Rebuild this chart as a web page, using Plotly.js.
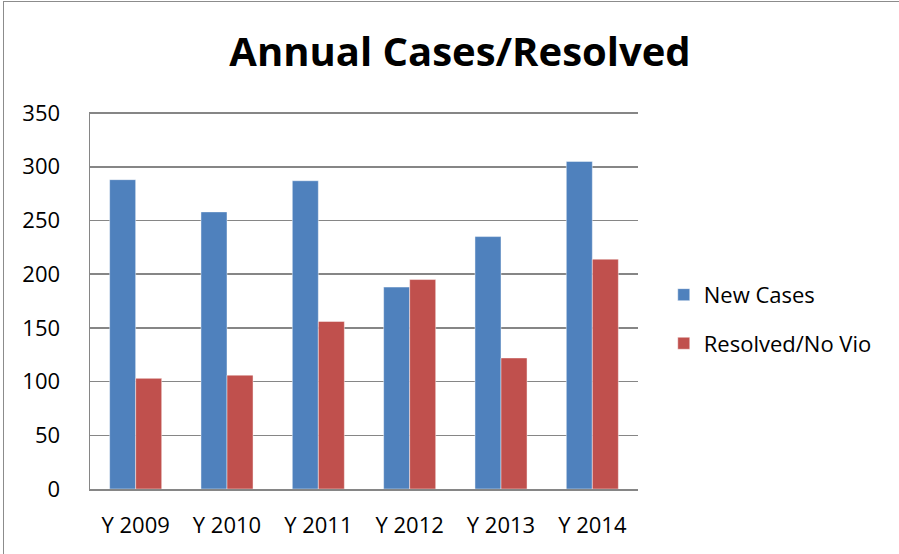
<!DOCTYPE html>
<html>
<head>
<meta charset="utf-8">
<script src="https://cdn.plot.ly/plotly-3.0.1.min.js"></script>
<style>
  html, body { margin: 0; padding: 0; background: #fff; }
  #frame { position: absolute; left: 3px; top: 1px; width: 896px; height: 553px;
           border-left: 1px solid #8c8c8c; border-top: 1px solid #8c8c8c; box-sizing: border-box; }
  #chart { position: absolute; left: 0; top: 0; width: 899px; height: 554px; }
</style>
</head>
<body>
<div id="frame"></div>
<div id="chart"></div>
<script>
const categories = ["Y 2009", "Y 2010", "Y 2011", "Y 2012", "Y 2013", "Y 2014"];
const newCases = [288, 258, 287, 188, 235, 305];
const resolvedNoVio = [103, 106, 156, 195, 122, 214];
const yTickValues = [0, 50, 100, 150, 200, 250, 300, 350];

const font = "'Open Sans', Lato, sans-serif";

const traces = [
  { type: "bar", name: "New Cases", x: categories, y: newCases, legendgroup: "a",
    marker: { color: "#4F81BD", line: { color: "rgba(255,255,255,0.45)", width: 1 } } },
  { type: "bar", name: "Resolved/No Vio", x: categories, y: resolvedNoVio, legendgroup: "b",
    marker: { color: "#C0504D", line: { color: "rgba(255,255,255,0.45)", width: 1 } } }
];

const layout = {
  width: 899, height: 554,
  margin: { l: 90, r: 261, t: 112, b: 65 },
  paper_bgcolor: "rgba(0,0,0,0)",
  plot_bgcolor: "#ffffff",
  font: { family: font, size: 22, color: "#000" },
  title: { text: "<b>Annual Cases/Resolved</b>", font: { family: font, size: 40, color: "#000" },
           x: 460/899, xref: "container", xanchor: "center",
           y: 1 - 52/554, yref: "container", yanchor: "middle" },
  barmode: "group", bargap: 0.43, bargroupgap: 0,
  showlegend: true,
  legend: { x: 1.047, xanchor: "left", y: 0.45, yanchor: "middle", font: { family: font, size: 22 },
            tracegroupgap: 17, traceorder: "grouped", bgcolor: "rgba(0,0,0,0)" },
  xaxis: { type: "category", showline: true, linecolor: "#868686", linewidth: 1.5,
           showgrid: false, ticks: "", ticklabelstandoff: 16, tickfont: { family: font, size: 22 },
           fixedrange: true },
  yaxis: { range: [0, 351], tickvals: yTickValues, ticktext: yTickValues.map(String),
           showline: true, linecolor: "#868686", linewidth: 1.5,
           showgrid: true, gridcolor: "#868686", gridwidth: 1.5, zeroline: false,
           ticks: "", ticklabelstandoff: 24, tickfont: { family: font, size: 22 },
           fixedrange: true }
};

Plotly.newPlot("chart", traces, layout, { displayModeBar: false, staticPlot: true });
</script>
</body>
</html>
